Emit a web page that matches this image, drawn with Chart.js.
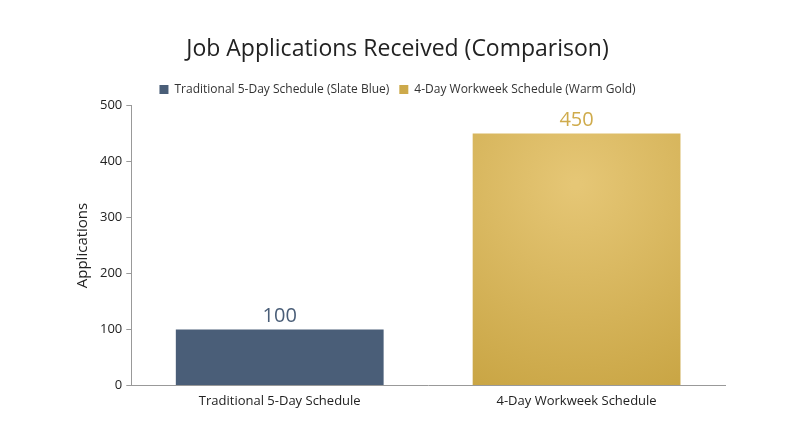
<!DOCTYPE html>
<html>
<head>
<meta charset="utf-8">
<script src="https://cdn.jsdelivr.net/npm/chart.js@4/dist/chart.umd.min.js"></script>
<style>
  html, body { margin: 0; padding: 0; background: #fff; }
  #wrap { width: 800px; height: 447px; }
</style>
</head>
<body>
<div id="wrap"><canvas id="chart"></canvas></div>
<script>
const categories = ["Traditional 5-Day Schedule", "4-Day Workweek Schedule"];
const traditionalValues = [100, null];
const fourDayValues = [null, 450];
const seriesNames = ["Traditional 5-Day Schedule (Slate Blue)", "4-Day Workweek Schedule (Warm Gold)"];
const yTicks = [0, 100, 200, 300, 400, 500];

const slate = "#4a5e78";
const gold = "#cfab4c";
const font = "'Open Sans', Lato, sans-serif";

// gold bar gets a soft radial highlight
function goldFill(ctx) {
  const chart = ctx.chart;
  const xs = chart.scales.x, ys = chart.scales.y;
  if (!chart.chartArea || !xs || !ys) return gold;
  const cx = xs.getPixelForValue(1);
  const top = ys.getPixelForValue(450), base = ys.getPixelForValue(0);
  const cy = top + (base - top) * 0.2;
  const r = (base - top) * 0.9;
  if (![cx, cy, r].every(Number.isFinite) || r <= 0) return gold;
  const g = chart.ctx.createRadialGradient(cx, cy, 5, cx, cy, r);
  g.addColorStop(0, "#e5c675");
  g.addColorStop(1, "#c9a544");
  return g;
}

const valueLabels = {
  id: "valueLabels",
  afterDatasetsDraw(chart) {
    const c = chart.ctx;
    chart.data.datasets.forEach((ds, i) => {
      chart.getDatasetMeta(i).data.forEach((bar, j) => {
        const v = ds.data[j];
        if (v == null) return;
        c.save();
        c.font = "20px " + font;
        c.fillStyle = i === 0 ? slate : gold;
        c.textAlign = "center";
        c.textBaseline = "bottom";
        c.fillText(v, bar.x, bar.y - 3);
        c.restore();
      });
    });
  }
};

new Chart(document.getElementById("chart"), {
  type: "bar",
  data: {
    labels: categories,
    datasets: [
      { label: seriesNames[0], data: traditionalValues, backgroundColor: slate },
      { label: seriesNames[1], data: fourDayValues, backgroundColor: goldFill }
    ]
  },
  options: {
    responsive: true,
    maintainAspectRatio: false,
    animation: false,
    layout: { padding: { left: 70, right: 75, top: 20, bottom: 30 } },
    datasets: { bar: { grouped: false, barPercentage: 0.7, categoryPercentage: 1 } },
    plugins: {
      title: {
        display: true,
        text: "Job Applications Received (Comparison)",
        color: "#222",
        font: { family: font, size: 23, weight: "normal" },
        padding: { top: 16, bottom: 10 }
      },
      legend: {
        labels: {
          boxWidth: 9, boxHeight: 9, color: "#333",
          font: { family: font, size: 12 }
        }
      },
      tooltip: { enabled: false }
    },
    scales: {
      x: {
        grid: { display: false, drawTicks: false },
        border: { color: "#999" },
        ticks: { color: "#222", font: { family: font, size: 13 }, padding: 8 }
      },
      y: {
        min: 0, max: 500,
        afterBuildTicks(axis) { axis.ticks = yTicks.map(v => ({ value: v })); },
        grid: { display: true, drawOnChartArea: false, tickLength: 5, color: "#999" },
        border: { color: "#999" },
        ticks: { color: "#222", font: { family: font, size: 13 }, padding: 4 },
        title: { display: true, text: "Applications", color: "#222", font: { family: font, size: 15 } }
      }
    }
  },
  plugins: [valueLabels]
});
</script>
</body>
</html>
